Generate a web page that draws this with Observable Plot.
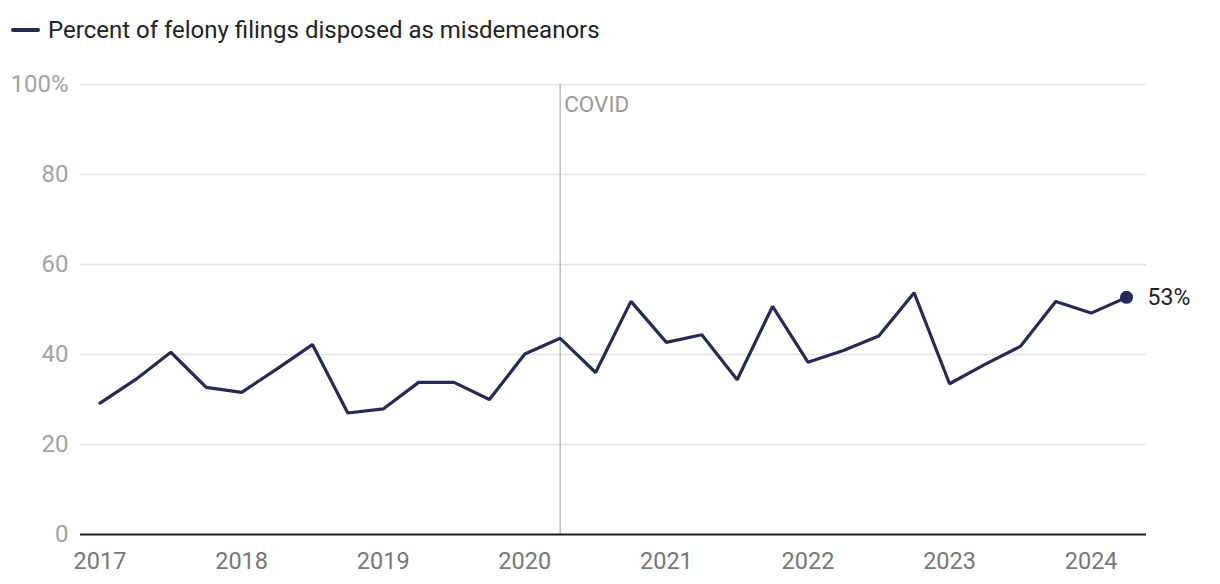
<!DOCTYPE html>
<html>
<head>
<meta charset="utf-8">
<script src="https://cdn.jsdelivr.net/npm/d3@7"></script>
<script src="https://cdn.jsdelivr.net/npm/@observablehq/plot@0.6"></script>
<style>
  html, body { margin: 0; padding: 0; background: #fff; }
  body { width: 1220px; height: 584px; overflow: hidden; font-family: Roboto, "Noto Sans", sans-serif; }
  #legend { height: 60px; position: relative; }
  #legend .sw { position: absolute; left: 11px; top: 28px; width: 29px; height: 4px; background: #262a57; border-radius: 2px; }
  #legend .lb { position: absolute; left: 48px; top: 14px; font-size: 24px; line-height: 32px; color: #222; }
  #chart svg { display: block; font-family: Roboto, "Noto Sans", sans-serif; }
  g[aria-label="y-axis tick label"] { fill: #a3a3a3; }
  g[aria-label="x-axis tick label"] { fill: #777; }
</style>
</head>
<body>
<div id="legend"><div class="sw"></div><div class="lb">Percent of felony filings disposed as misdemeanors</div></div>
<div id="chart"></div>
<script>
const years    = [2017,2017,2017,2017,2018,2018,2018,2018,2019,2019,2019,2019,2020,2020,2020,2020,2021,2021,2021,2021,2022,2022,2022,2022,2023,2023,2023,2023,2024,2024];
const quarters = [1,2,3,4,1,2,3,4,1,2,3,4,1,2,3,4,1,2,3,4,1,2,3,4,1,2,3,4,1,2];
const values   = [29.2,34.4,40.5,32.7,31.6,36.8,42.2,27.0,27.9,33.8,33.8,30.0,40.1,43.6,36.0,51.8,42.7,44.4,34.4,50.7,38.3,40.9,44.1,53.7,33.5,37.8,41.8,51.8,49.2,52.7];
const tickYears = [2017,2018,2019,2020,2021,2022,2023,2024];
const yTicks = [0,20,40,60,80,100];
const covidDate = [2020, 2];
const endLabel = "53%";

const data = values.map((v, i) => ({t: years[i] + (quarters[i] - 1) / 4, v}));
const last = [data[data.length - 1]];
const covidT = covidDate[0] + (covidDate[1] - 1) / 4;

const chart = Plot.plot({
  width: 1220,
  height: 524,
  marginLeft: 80,
  marginRight: 74,
  marginTop: 24,
  marginBottom: 50,
  x: {domain: [2016.862, 2024.391], label: null},
  y: {domain: [0, 100], label: null},
  marks: [
    Plot.gridY(yTicks.filter(d => d > 0), {stroke: "#e3e3e3", strokeOpacity: 1, strokeWidth: 1.5}),
    Plot.axisY(yTicks, {tickSize: 0, tickPadding: 12, fontSize: 24, label: null, tickFormat: d => d === 100 ? "100%" : String(d)}),
    Plot.axisX(tickYears, {tickSize: 0, tickPadding: 18, fontSize: 23.5, label: null, tickFormat: d => String(d)}),
    Plot.ruleX([covidT], {y1: 0, y2: 100, stroke: "#bdbdbd", strokeWidth: 1.5}),
    Plot.text(["COVID"], {x: covidT, y: 100, text: d => d, dx: 4, dy: 20, textAnchor: "start", fontSize: 22.5, fill: "#9a9a9a"}),
    Plot.ruleY([0], {stroke: "#1a1a1a", strokeWidth: 2}),
    Plot.line(data, {x: "t", y: "v", stroke: "#262a57", strokeWidth: 3.2, strokeLinejoin: "miter"}),
    Plot.dot(last, {x: "t", y: "v", r: 6.5, fill: "#262a57"}),
    Plot.text(last, {x: "t", y: "v", text: () => endLabel, dx: 21, textAnchor: "start", fontSize: 23, fill: "#222"})
  ]
});
document.getElementById("chart").appendChild(chart);
</script>
</body>
</html>
